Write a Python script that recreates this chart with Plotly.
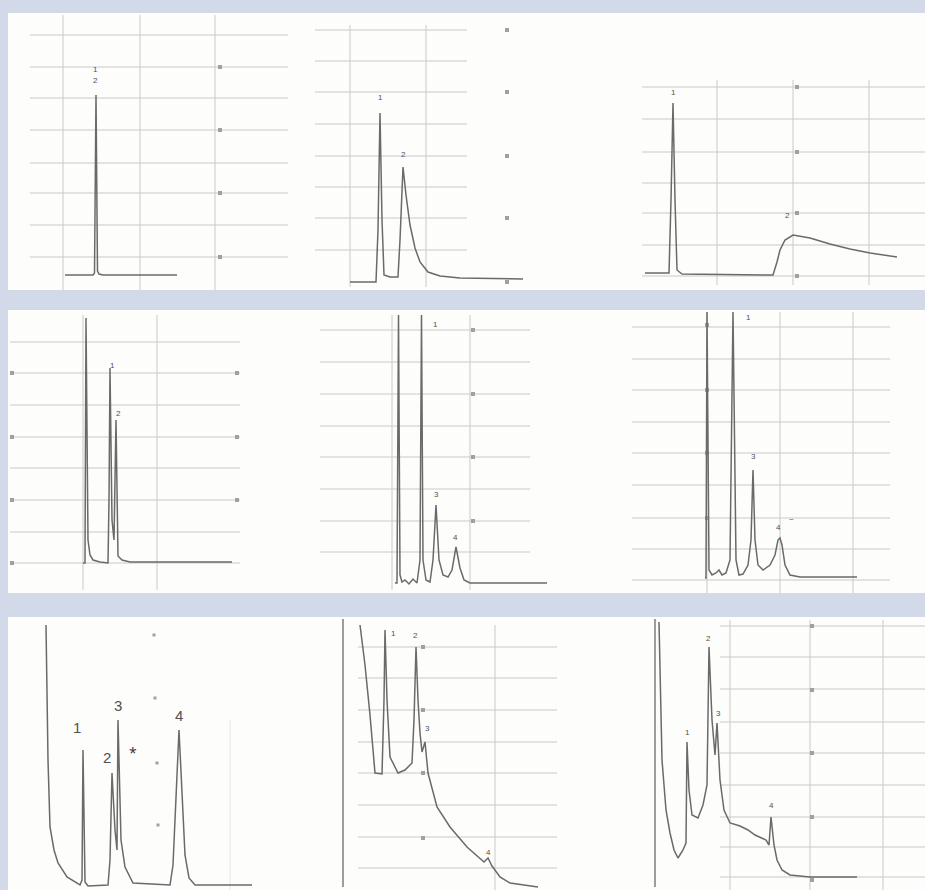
import plotly.graph_objects as go

FIG_W, FIG_H = 925, 890

# ---------------- data (time axis / detector response, arbitrary units) ----------------
# Panel 1 (top-left)
p1_time = [57, 85, 86.5, 88, 89.5, 91, 95, 169]
p1_signal = [15, 15, 17, 195, 19, 16, 15, 15]
p1_peak_names = ["1", "2"]
p1_peak_time = [87, 87]
p1_peak_resp = [220, 209]

# Panel 2 (top-middle)
p2_time = [50, 76, 78, 80, 82, 84, 90, 98, 100, 103, 106, 110, 115, 120, 128, 140, 160, 223]
p2_signal = [8, 8, 60, 177, 70, 15, 13, 13, 50, 123, 95, 65, 42, 28, 18, 14, 12, 11]
p2_peak_names = ["1", "2"]
p2_peak_time = [80, 103]
p2_peak_resp = [192, 135]

# Panel 3 (top-right)
p3_time = [35, 59, 61, 63, 65, 67, 72, 163, 167, 170, 175, 183, 200, 220, 240, 260, 287]
p3_signal = [17, 17, 90, 187, 90, 20, 16, 15, 28, 40, 50, 55, 52, 46, 41, 37, 33]
p3_peak_names = ["1", "2"]
p3_peak_time = [63, 177]
p3_peak_resp = [197, 74]

# Panel 4 (middle-left)
p4_time = [75, 77, 78, 80, 82, 85, 92, 100, 101, 102, 104, 106, 108, 110, 114, 122, 224]
p4_signal = [30, 30, 275, 53, 38, 33, 31, 30, 93, 225, 73, 53, 173, 37, 33, 31, 31]
p4_peak_names = ["1", "2"]
p4_peak_time = [104, 110]
p4_peak_resp = [227, 179]

# Panel 5 (middle-centre)
p5_time = [95, 97, 98.5, 100, 102, 105, 109, 113, 117, 120, 121.5, 123, 126, 130, 133, 136,
           139, 143, 148, 152, 156, 160, 164, 170, 247]
p5_signal = [10, 10, 278, 18, 11, 13, 9, 14, 10, 33, 278, 33, 13, 11, 33, 88,
             33, 18, 16, 23, 46, 25, 13, 10, 10]
p5_peak_names = ["1", "3", "4"]
p5_peak_time = [135, 136, 155]
p5_peak_resp = [268, 98, 56]

# Panel 6 (middle-right)
p6_time = [95, 96, 97, 99, 102, 106, 109, 112, 116, 120, 123, 126, 129, 133, 138, 141, 143,
           145, 148, 153, 160, 165, 168, 170, 172, 175, 180, 190, 247]
p6_signal = [15, 15, 281, 23, 18, 20, 23, 18, 20, 33, 281, 33, 18, 19, 28, 53, 123,
             53, 28, 23, 28, 38, 53, 55, 48, 28, 18, 16, 16]
p6_peak_names = ["1", "3", "4", "~"]
p6_peak_time = [138, 143, 168, 181]
p6_peak_resp = [275, 136, 66, 74]

# Panel 7 (bottom-left)
p7_time = [38, 40, 42, 46, 50, 59, 72, 74, 75, 77, 80, 100, 102, 104, 107, 109, 110, 113, 117,
           125, 162, 165, 171, 177, 181, 187, 244]
p7_signal = [265, 130, 63, 40, 27, 13, 5, 10, 140, 8, 4, 5, 30, 117, 60, 40, 170, 50, 23,
             7, 5, 25, 160, 35, 12, 5, 5]
p7_peak_names = ["1", "2", "3", "4"]
p7_peak_time = [69, 99, 110, 171]
p7_peak_resp = [163, 133, 185, 175]

# Panel 8 (bottom-centre)
p8_time = [60, 65, 70, 75, 82, 84, 85, 87, 90, 98, 105, 112, 114, 116, 118, 120, 122, 125,
           128, 137, 150, 167, 184, 188, 192, 200, 210, 238]
p8_signal = [265, 225, 175, 117, 116, 190, 260, 190, 133, 117, 120, 127, 170, 243, 190, 157,
             138, 148, 117, 83, 63, 43, 28, 32, 24, 13, 7, 3]
p8_peak_names = ["1", "2", "3", "4"]
p8_peak_time = [93, 115, 127, 188]
p8_peak_resp = [257, 255, 162, 38]

# Panel 9 (bottom-right)
p9_time = [49, 52, 56, 60, 64, 68, 73, 76, 77, 79, 82, 88, 93, 97, 99, 102, 105, 107, 110,
           114, 120, 130, 138, 145, 156, 159, 161, 164, 167, 172, 180, 200, 247]
p9_signal = [268, 130, 80, 57, 40, 32, 40, 47, 148, 100, 75, 72, 85, 105, 243, 170, 135, 167,
             110, 80, 67, 64, 60, 55, 50, 45, 73, 45, 30, 20, 15, 13, 13]
p9_peak_names = ["1", "2", "3", "4"]
p9_peak_time = [77, 98, 108, 161]
p9_peak_resp = [158, 252, 177, 85]

# ---------------- layout of the 3x3 panels (pixel boxes: left, top, right, bottom) ----------------
cols = [(8, 300), (300, 610), (610, 925)]
rows = [(13, 290), (310, 593), (617, 890)]

panels = [
    dict(time=p1_time, sig=p1_signal, names=p1_peak_names, pt=p1_peak_time, pr=p1_peak_resp,
         hgrid=[255, 223, 192, 160, 127, 97, 65, 33], hext=[22, 280],
         vgrid=[55, 132, 207], vext=[0, 275],
         ticks_x=[212] * 4, ticks_y=[223, 160, 97, 33], inj=None, lab_size=8),
    dict(time=p2_time, sig=p2_signal, names=p2_peak_names, pt=p2_peak_time, pr=p2_peak_resp,
         hgrid=[260, 229, 198, 166, 134, 103, 72, 40], hext=[15, 167],
         vgrid=[50, 126], vext=[3, 265],
         ticks_x=[207] * 5, ticks_y=[260, 198, 134, 72, 8], inj=None, lab_size=8),
    dict(time=p3_time, sig=p3_signal, names=p3_peak_names, pt=p3_peak_time, pr=p3_peak_resp,
         hgrid=[203, 171, 138, 107, 77, 45, 14], hext=[32, 315],
         vgrid=[107, 183, 259], vext=[5, 210],
         ticks_x=[187] * 4, ticks_y=[203, 138, 77, 14], inj=None, lab_size=8),
    dict(time=p4_time, sig=p4_signal, names=p4_peak_names, pt=p4_peak_time, pr=p4_peak_resp,
         hgrid=[251, 220, 188, 156, 125, 93, 61, 30], hext=[2, 232],
         vgrid=[75, 149], vext=[3, 278],
         ticks_x=[4, 4, 4, 4, 229, 229, 229], ticks_y=[220, 156, 93, 30, 220, 156, 93],
         inj=None, lab_size=8),
    dict(time=p5_time, sig=p5_signal, names=p5_peak_names, pt=p5_peak_time, pr=p5_peak_resp,
         hgrid=[263, 231, 199, 167, 136, 104, 72, 41], hext=[20, 230],
         vgrid=[92, 170], vext=[3, 278],
         ticks_x=[173] * 4, ticks_y=[263, 199, 136, 72], inj=None, lab_size=8),
    dict(time=p6_time, sig=p6_signal, names=p6_peak_names, pt=p6_peak_time, pr=p6_peak_resp,
         hgrid=[266, 234, 203, 171, 140, 108, 75, 44, 13], hext=[22, 280],
         vgrid=[97, 170, 243], vext=[0, 281],
         ticks_x=[97] * 4, ticks_y=[268, 203, 140, 75], inj=None, lab_size=8),
    dict(time=p7_time, sig=p7_signal, names=p7_peak_names, pt=p7_peak_time, pr=p7_peak_resp,
         hgrid=[], hext=[0, 0],
         vgrid=[222], vext=[0, 170],
         ticks_x=[146, 147, 149, 150], ticks_y=[255, 192, 127, 65], inj=None, lab_size=15),
    dict(time=p8_time, sig=p8_signal, names=p8_peak_names, pt=p8_peak_time, pr=p8_peak_resp,
         hgrid=[243, 212, 180, 148, 117, 85, 53, 22], hext=[58, 257],
         vgrid=[195], vext=[0, 265],
         ticks_x=[123] * 4, ticks_y=[243, 180, 117, 52], inj=43, lab_size=8),
    dict(time=p9_time, sig=p9_signal, names=p9_peak_names, pt=p9_peak_time, pr=p9_peak_resp,
         hgrid=[264, 233, 201, 168, 137, 105, 73, 43, 13], hext=[110, 315],
         vgrid=[120, 200, 273], vext=[0, 270],
         ticks_x=[202] * 5, ticks_y=[264, 200, 137, 73, 10], inj=45, lab_size=8),
]

BAND = "#d2d9e8"
TRACE = "#6a6a6a"
GRID = "#c9c9c9"
TICKC = "#a0a0a0"

fig = go.Figure()
annotations = []

for i, p in enumerate(panels):
    r, c = divmod(i, 3)
    L, R = cols[c]
    T, B = rows[r]
    n = "" if i == 0 else str(i + 1)
    xa, ya = "x" + n, "y" + n

    # grid lines
    gx, gy = [], []
    for yv in p["hgrid"]:
        gx += [p["hext"][0], p["hext"][1], None]
        gy += [yv, yv, None]
    for xv in p["vgrid"]:
        gx += [xv, xv, None]
        gy += [p["vext"][0], p["vext"][1], None]
    if gx:
        fig.add_trace(go.Scatter(x=gx, y=gy, mode="lines", xaxis=xa, yaxis=ya,
                                 line=dict(color=GRID if i != 6 else "#e6e6e6", width=1),
                                 hoverinfo="skip", showlegend=False))
    # scale marks
    fig.add_trace(go.Scatter(x=p["ticks_x"], y=p["ticks_y"], mode="markers", xaxis=xa, yaxis=ya,
                             marker=dict(symbol="square", size=4 if i != 6 else 3, color=TICKC),
                             hoverinfo="skip", showlegend=False))
    # injection marker line
    if p["inj"] is not None:
        fig.add_trace(go.Scatter(x=[p["inj"], p["inj"]], y=[3, B - T - 2], mode="lines",
                                 xaxis=xa, yaxis=ya, line=dict(color=TRACE, width=1.3),
                                 hoverinfo="skip", showlegend=False))
    # chromatogram
    fig.add_trace(go.Scatter(x=p["time"], y=p["sig"], mode="lines", xaxis=xa, yaxis=ya,
                             line=dict(color=TRACE, width=1.5), showlegend=False))
    # peak labels
    for nm, tx, ry in zip(p["names"], p["pt"], p["pr"]):
        annotations.append(dict(x=tx, y=ry, xref=xa, yref=ya, text=nm, showarrow=False,
                                font=dict(size=p["lab_size"], color="#505050",
                                          family="Liberation Sans, Arial, sans-serif")))
    if i == 6:
        annotations.append(dict(x=125, y=138, xref=xa, yref=ya, text="*", showarrow=False,
                                font=dict(size=14, color="#303030")))

    axkey_x = "xaxis" if i == 0 else "xaxis" + n
    axkey_y = "yaxis" if i == 0 else "yaxis" + n
    fig.layout[axkey_x] = dict(domain=[L / FIG_W, R / FIG_W], range=[0, R - L], visible=False,
                               fixedrange=True, anchor=ya)
    fig.layout[axkey_y] = dict(domain=[1 - B / FIG_H, 1 - T / FIG_H], range=[0, B - T],
                               visible=False, fixedrange=True, anchor=xa)

fig.update_layout(
    width=FIG_W, height=FIG_H, autosize=False,
    margin=dict(l=0, r=0, t=0, b=0),
    paper_bgcolor=BAND, plot_bgcolor="#fdfdfb",
    annotations=annotations,
    showlegend=False,
)

fig.write_html("out.html", config={"displayModeBar": False},
               post_script="document.body.style.margin='0px';")
